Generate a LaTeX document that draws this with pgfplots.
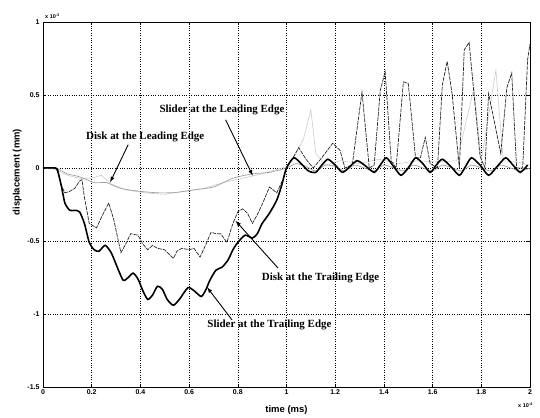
\documentclass[border=0pt]{standalone}
\usepackage{pgfplots}
\pgfplotsset{compat=1.18}
\usepackage{fontspec}
\setmainfont{Liberation Serif}
\newfontfamily\ars{Liberation Sans}
\usetikzlibrary{calc,arrows.meta}

\pgfplotstableread{
x y
0 0
0.05 0
0.06 -0.02
0.075 -0.12
0.09 -0.24
0.11 -0.29
0.13 -0.29
0.15 -0.30
0.17 -0.38
0.19 -0.51
0.21 -0.56
0.23 -0.57
0.255 -0.53
0.28 -0.58
0.31 -0.70
0.33 -0.77
0.35 -0.75
0.37 -0.72
0.39 -0.76
0.41 -0.84
0.43 -0.90
0.45 -0.87
0.47 -0.81
0.49 -0.83
0.51 -0.90
0.535 -0.94
0.56 -0.90
0.595 -0.82
0.62 -0.84
0.65 -0.88
0.67 -0.83
0.685 -0.77
0.71 -0.70
0.735 -0.68
0.76 -0.63
0.78 -0.56
0.80 -0.51
0.83 -0.46
0.86 -0.48
0.88 -0.45
0.90 -0.38
0.93 -0.31
0.96 -0.22
0.98 -0.12
1.0 0.0
1.03 0.07
1.06 0.03
1.09 -0.02
1.12 -0.03
1.145 0.02
1.17 0.06
1.20 0.02
1.23 -0.03
1.26 0.01
1.29 0.05
1.32 0.02
1.36 -0.03
1.385 0.02
1.41 0.07
1.44 0.01
1.47 -0.05
1.50 0.00
1.53 0.07
1.56 0.03
1.59 -0.03
1.615 0.02
1.64 0.06
1.675 0.01
1.71 -0.05
1.735 0.01
1.76 0.07
1.795 0.02
1.83 -0.05
1.865 0.01
1.90 0.07
1.93 0.02
1.96 -0.03
1.99 0.02
}\sliderTE

\pgfplotstableread{
x y
0 0
0.06 0
0.075 -0.12
0.09 -0.17
0.11 -0.16
0.13 -0.14
0.15 -0.09
0.16 -0.08
0.17 -0.20
0.19 -0.38
0.22 -0.41
0.245 -0.32
0.27 -0.24
0.29 -0.35
0.32 -0.58
0.34 -0.52
0.36 -0.45
0.39 -0.46
0.41 -0.52
0.43 -0.56
0.45 -0.53
0.47 -0.55
0.50 -0.56
0.535 -0.62
0.55 -0.57
0.57 -0.55
0.60 -0.56
0.62 -0.55
0.645 -0.61
0.67 -0.52
0.69 -0.44
0.71 -0.45
0.73 -0.45
0.755 -0.51
0.78 -0.38
0.80 -0.30
0.82 -0.28
0.84 -0.31
0.86 -0.38
0.88 -0.32
0.90 -0.25
0.93 -0.13
0.96 -0.17
0.985 -0.08
1.0 0
1.03 0.08
1.05 0.14
1.08 0.06
1.11 0.0
1.14 0.06
1.19 0.17
1.22 0.12
1.24 0.0
1.27 0.02
1.31 0.52
1.34 0.0
1.36 0.02
1.385 0.53
1.405 0.66
1.43 0.05
1.45 0.0
1.48 0.59
1.50 0.58
1.53 0.07
1.55 0.07
1.57 0.21
1.59 0.03
1.62 0.0
1.64 0.57
1.66 0.73
1.68 0.51
1.71 0.0
1.73 0.81
1.75 0.86
1.775 0.42
1.795 0.08
1.815 0.0
1.83 0.51
1.88 0.10
1.905 0.55
1.925 0.65
1.945 0.0
1.97 0.0
1.99 0.74
2.0 0.85
}\diskTE

\pgfplotstableread{
x y
0 0
0.05 0
0.10 -0.04
0.15 -0.06
0.21 -0.10
0.26 -0.10
0.32 -0.14
0.40 -0.16
0.47 -0.17
0.52 -0.17
0.535 -0.17
0.62 -0.15
0.70 -0.13
0.78 -0.07
0.86 -0.04
0.93 -0.03
1.0 0.0
1.04 0.03
1.08 0.01
1.12 -0.02
1.16 0.02
1.20 0.01
1.24 -0.02
1.28 0.02
1.32 0.0
1.36 -0.02
1.40 0.02
1.44 0.0
1.48 -0.02
1.52 0.02
1.56 0.0
1.60 -0.02
1.64 0.02
1.68 0.0
1.72 -0.02
1.76 0.02
1.80 0.0
1.84 -0.02
1.88 0.02
1.92 0.0
1.96 -0.02
2.0 0.0
}\diskLE

\pgfplotstableread{
x y
0 0
0.05 -0.01
0.10 -0.05
0.15 -0.07
0.20 -0.07
0.24 -0.05
0.28 -0.11
0.34 -0.15
0.42 -0.17
0.50 -0.18
0.58 -0.16
0.66 -0.14
0.74 -0.10
0.82 -0.07
0.90 -0.04
1.0 0.01
1.04 0.10
1.07 0.20
1.10 0.40
1.12 0.10
1.16 0.02
1.22 0.05
1.30 0.03
1.38 0.06
1.46 0.03
1.54 0.05
1.62 0.04
1.70 0.05
1.77 0.55
1.80 0.05
1.86 0.67
1.89 0.05
1.95 0.04
2.0 0.02
}\sliderLE

\begin{document}
\begin{tikzpicture}
\begin{axis}[
  scale only axis,
  width=487bp, height=365bp,
  xmin=0, xmax=2, ymin=-1.5, ymax=1,
  xtick={0,0.2,0.4,0.6,0.8,1,1.2,1.4,1.6,1.8,2},
  xticklabels={0,0.2,0.4,0.6,0.8,1,1.2,1.4,1.6,1.8,2},
  ytick={-1.5,-1,-0.5,0,0.5,1},
  yticklabels={-1.5,-1,-0.5,0,0.5,1},
  scaled ticks=false,
  tick align=inside,
  major tick length=3bp,
  tick style={black, line width=0.6pt},
  ticklabel style={font=\ars\bfseries\fontsize{7}{8}\selectfont},
  xticklabel style={yshift=1bp},
  grid=major,
  grid style={black, dotted, line width=0.6pt},
  axis line style={black, line width=0.9pt},
  xlabel={time (ms)},
  ylabel={displacement (mm)},
  label style={font=\ars\bfseries\fontsize{9.5}{11}\selectfont},
  xlabel style={at={(axis description cs:0.50,-0.063)}, anchor=center},
  ylabel style={at={(axis description cs:-0.053,0.589)}, anchor=center},
  clip=true,
]
\addplot[gray!40, line width=0.6pt] table {\sliderLE};
\addplot[gray!75, line width=0.7pt, smooth, tension=0.4] table {\diskLE};
\addplot[black!85, dashed, dash pattern=on 4pt off 1pt, line width=0.7pt] table {\diskTE};
\addplot[black, line width=1.6pt, smooth, tension=0.4] table {\sliderTE};

\coordinate (bl) at (rel axis cs:0,0);
\coordinate (tr) at (rel axis cs:1,1);

\node[font=\bfseries\fontsize{11}{13}\selectfont] at (axis cs:0.735,0.40) {Slider at the Leading Edge};
\node[font=\bfseries\fontsize{11}{13}\selectfont] at (axis cs:0.42,0.21) {Disk at the Leading Edge};
\node[font=\bfseries\fontsize{11}{13}\selectfont] at (axis cs:1.14,-0.75) {Disk at the Trailing Edge};
\node[font=\bfseries\fontsize{11}{13}\selectfont] at (axis cs:0.93,-1.075) {Slider at the Trailing Edge};

\draw[-{Latex[length=6pt,width=4pt]}, line width=0.9pt] (axis cs:0.75,0.33) -- (axis cs:0.862,-0.055);
\draw[-{Latex[length=6pt,width=4pt]}, line width=0.9pt] (axis cs:0.35,0.16) -- (axis cs:0.275,-0.10);
\draw[-{Latex[length=6pt,width=4pt]}, line width=0.9pt] (axis cs:0.965,-0.685) -- (axis cs:0.79,-0.36);
\draw[-{Latex[length=6pt,width=4pt]}, line width=0.9pt] (axis cs:0.776,-1.04) -- (axis cs:0.673,-0.815);
\end{axis}
\node[anchor=south west, font=\ars\bfseries\fontsize{5.5}{6}\selectfont, inner sep=0pt] at ($(bl|-tr)+(2bp,3bp)$) {x 10\textsuperscript{-3}};
\node[anchor=north east, font=\ars\bfseries\fontsize{5.5}{6}\selectfont, inner sep=0pt] at ($(tr|-bl)+(3bp,-16bp)$) {x 10\textsuperscript{-4}};
\pgfresetboundingbox
\path ($(bl)+(-43bp,-31bp)$) rectangle ($(tr)+(10bp,22bp)$);
\end{tikzpicture}
\end{document}
